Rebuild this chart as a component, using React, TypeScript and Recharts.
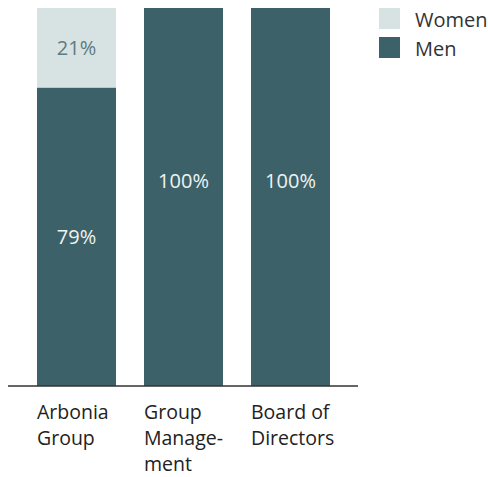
import { BarChart, Bar, XAxis, YAxis, LabelList } from 'recharts'

const categories = ['Arbonia Group', 'Group Manage-ment', 'Board of Directors']
const tickLines = [['Arbonia', 'Group'], ['Group', 'Manage-', 'ment'], ['Board of', 'Directors']]
const women = [21, 0, 0]
const men = [79, 100, 100]

const data = categories.map((c, i) => ({ name: c, women: women[i], men: men[i] }))

const FONT = '"Open Sans", "Noto Sans", sans-serif'
const MEN_COLOR = '#3d6168'
const WOMEN_COLOR = '#d7e3e3'

const CategoryTick = ({ x, y, index }: any) => {
  const lines = tickLines[index] || []
  return (
    <text x={x - 39.5} y={y + 25} fontFamily={FONT} fontSize={19.5} fill="#222" textAnchor="start">
      {lines.map((l, i) => (
        <tspan key={i} x={x - 39.5} dy={i === 0 ? 0 : 26}>{l}</tspan>
      ))}
    </text>
  )
}

const makeLabel = (fill: string) => (props: any) => {
  const { x, y, width, height, value } = props
  if (!value) return null
  // full bars carry their label a bit above the middle
  const shift = value === 100 ? -17 : 0
  return (
    <text
      x={x + width / 2}
      y={y + height / 2 + shift}
      fill={fill}
      fontFamily={FONT}
      fontSize={20}
      textAnchor="middle"
      dominantBaseline="central"
    >
      {value}%
    </text>
  )
}

const Legend = () => (
  <g fontFamily={FONT} fontSize={20} fill="#333">
    <rect x={379} y={8} width={21} height={21} fill={WOMEN_COLOR} />
    <text x={415} y={27}>Women</text>
    <rect x={379} y={37} width={21} height={21} fill={MEN_COLOR} />
    <text x={415} y={56}>Men</text>
  </g>
)

export default function App() {
  return (
    <div style={{ position: 'absolute', left: 0, top: 0, width: 488, height: 477, background: '#fff' }}>
      <BarChart
        width={488}
        height={477}
        data={data}
        margin={{ top: 8, right: 130, bottom: 0, left: 8 }}
        barSize={79}
      >
        <XAxis
          dataKey="name"
          axisLine={{ stroke: '#333', strokeWidth: 1.5 }}
          tickLine={false}
          tick={<CategoryTick />}
          interval={0}
          padding={{ left: 15, right: 14 }}
          height={91}
        />
        <YAxis hide domain={[0, 100]} width={0} />
        <Bar dataKey="men" stackId="a" fill={MEN_COLOR} isAnimationActive={false}>
          <LabelList dataKey="men" content={makeLabel('#eef3f3')} />
        </Bar>
        <Bar dataKey="women" stackId="a" fill={WOMEN_COLOR} isAnimationActive={false}>
          <LabelList dataKey="women" content={makeLabel('#5d7b80')} />
        </Bar>
        <Legend />
      </BarChart>
    </div>
  )
}
